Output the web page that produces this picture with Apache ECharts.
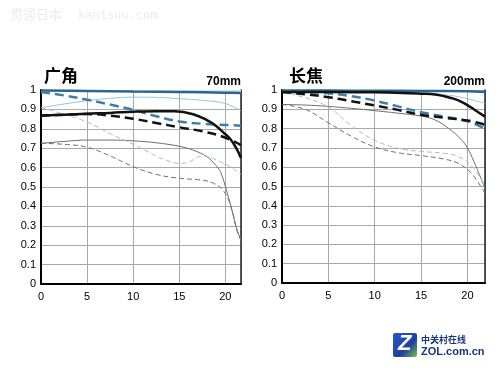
<!DOCTYPE html>
<html><head><meta charset="utf-8">
<script src="https://cdn.jsdelivr.net/npm/echarts@6/dist/echarts.min.js"></script>
<style>html,body{margin:0;padding:0;background:#fff}#c{width:500px;height:375px}</style>
</head><body><div id="c"></div>
<script>
// ---- tick labels ----
const xTicks = [0, 5, 10, 15, 20];
const yTicks = [0, 0.1, 0.2, 0.3, 0.4, 0.5, 0.6, 0.7, 0.8, 0.9, 1];

// ---- 广角 70mm ----
const wS10f8X = [0, 5, 10, 15, 20, 21.7];
const wS10f8Y = [0.997, 0.995, 0.992, 0.99, 0.986, 0.984];
const wM10f8X = [0, 2.5, 5, 7.5, 10, 12.5, 15, 17.5, 20, 21.7];
const wM10f8Y = [0.99, 0.972, 0.95, 0.925, 0.898, 0.865, 0.838, 0.826, 0.82, 0.816];
const wS10opX = [0, 2.5, 5, 7.5, 10, 12.5, 14.5, 16.5, 18, 19, 19.8, 20.4, 20.9, 21.3, 21.7];
const wS10opY = [0.868, 0.873, 0.878, 0.882, 0.888, 0.891, 0.89, 0.875, 0.845, 0.815, 0.78, 0.755, 0.723, 0.69, 0.65];
const wM10opX = [0, 2.5, 5, 7.5, 10, 12.5, 15, 17.5, 19.8, 21.7];
const wM10opY = [0.868, 0.873, 0.876, 0.868, 0.852, 0.83, 0.808, 0.787, 0.758, 0.716];
const wS30f8X = [0, 2.5, 5, 7.5, 10, 12.5, 15, 17.5, 20, 21.7];
const wS30f8Y = [0.908, 0.928, 0.945, 0.957, 0.963, 0.962, 0.955, 0.947, 0.93, 0.893];
const wM30f8X = [0, 2.5, 5, 7.5, 10, 12.5, 13.5, 15, 16, 17.5, 19, 20.5, 21.7];
const wM30f8Y = [0.91, 0.875, 0.835, 0.775, 0.72, 0.66, 0.64, 0.622, 0.628, 0.66, 0.64, 0.605, 0.565];
const wS30opX = [0, 2.5, 5, 7.5, 10, 12.5, 15, 16.5, 18, 19, 19.5, 20.2, 20.8, 21.2, 21.7];
const wS30opY = [0.725, 0.735, 0.742, 0.742, 0.738, 0.728, 0.71, 0.69, 0.656, 0.61, 0.575, 0.47, 0.365, 0.29, 0.225];
const wM30opX = [0, 2.5, 5, 7.5, 10, 12.5, 15, 17.5, 18.7, 19.8, 20.6, 21.3, 21.7];
const wM30opY = [0.725, 0.72, 0.705, 0.66, 0.605, 0.565, 0.545, 0.535, 0.52, 0.48, 0.4, 0.27, 0.225];

// ---- 长焦 200mm ----
const tS10f8X = [0, 5, 10, 15, 20, 21.9];
const tS10f8Y = [0.998, 0.997, 0.996, 0.995, 0.993, 0.99];
const tS10opX = [0, 5, 10, 13, 15, 16.5, 17.5, 18.5, 19.3, 20, 20.7, 21.9];
const tS10opY = [0.99, 0.99, 0.988, 0.985, 0.981, 0.977, 0.968, 0.955, 0.94, 0.922, 0.9, 0.862];
const tM10f8X = [0, 2.5, 5, 7.5, 10, 12.5, 15, 17.5, 20, 21.9];
const tM10f8Y = [0.995, 0.99, 0.983, 0.968, 0.945, 0.915, 0.885, 0.862, 0.838, 0.8];
const tM10opX = [0, 2.5, 5, 7.5, 10, 12.5, 15, 17.5, 20, 21.9];
const tM10opY = [0.99, 0.978, 0.963, 0.942, 0.92, 0.897, 0.872, 0.856, 0.842, 0.82];
const tS30f8X = [0, 5, 10, 15, 18, 20, 21.9];
const tS30f8Y = [0.995, 0.992, 0.987, 0.981, 0.973, 0.955, 0.93];
const tM30f8X = [0, 2.5, 5, 7.5, 10, 12.5, 15, 17.5, 19, 20.4, 21.9];
const tM30f8Y = [0.99, 0.96, 0.912, 0.815, 0.74, 0.698, 0.682, 0.672, 0.655, 0.61, 0.505];
const tS30opX = [0, 2.5, 5, 7.5, 10, 12.5, 15, 16.5, 18, 19.3, 20, 20.7, 21.9];
const tS30opY = [0.925, 0.922, 0.915, 0.905, 0.893, 0.88, 0.865, 0.845, 0.8, 0.745, 0.7, 0.63, 0.49];
const tM30opX = [0, 2.5, 5, 7.5, 10, 12.5, 15, 17.5, 19, 20.4, 21.9];
const tM30opY = [0.925, 0.9, 0.83, 0.76, 0.705, 0.675, 0.66, 0.642, 0.62, 0.57, 0.465];

const zip = (xs, ys) => xs.map((x, i) => [x, ys[i]]);
const FONT = '"Liberation Sans", Arial, sans-serif';

function mk(gi, xs, ys, color, width, dash, z, extra) {
  return Object.assign({
    type: 'line', xAxisIndex: gi, yAxisIndex: gi * 2, data: zip(xs, ys),
    smooth: 0.4, symbol: 'none', z: z, silent: true,
    lineStyle: { color: color, width: width, type: dash ? dash : 'solid' }
  }, extra || {});
}
const BLACK = '#111', BLUE = '#3d7fa8', DBLUE = '#2a6690', LBLUE = '#96c6d8', GRAY = '#6f6f6f';
const band = { areaStyle: { origin: 'end', color: '#cfe7f2', opacity: 1 } };

function xAx(gi, max) {
  return {
    type: 'value', gridIndex: gi, min: 0, max: max, interval: 5,
    axisLine: { show: true, onZero: false, lineStyle: { color: '#000', width: 2 } },
    axisTick: { show: false },
    axisLabel: { color: '#000', fontSize: 11, fontFamily: FONT, margin: 7, showMaxLabel: false,
      formatter: v => xTicks.indexOf(v) >= 0 ? String(v) : '' },
    splitLine: { show: true, lineStyle: { color: '#a8a8a8', width: 1 } }
  };
}
function yAx(gi) {
  return [{
    type: 'value', gridIndex: gi, min: 0, max: 1, interval: 0.1,
    axisLine: { show: true, lineStyle: { color: '#000', width: 2 } },
    axisTick: { show: false },
    axisLabel: { color: '#000', fontSize: 11, fontFamily: FONT, margin: 5,
      formatter: v => { const r = +v.toFixed(1); return yTicks.indexOf(r) >= 0 ? String(r) : ''; } },
    splitLine: { show: true, lineStyle: { color: '#a8a8a8', width: 1 } }
  }, {
    type: 'value', gridIndex: gi, min: 0, max: 1, position: 'right',
    axisLine: { show: true, lineStyle: { color: '#222', width: 1.5 } },
    axisTick: { show: false }, axisLabel: { show: false }, splitLine: { show: false }
  }];
}

const option = {
  animation: false,
  backgroundColor: '#fff',
  grid: [
    { left: 41, top: 90, width: 200, height: 194 },
    { left: 282, top: 90, width: 203, height: 193 }
  ],
  xAxis: [xAx(0, 21.7), xAx(1, 21.9)],
  yAxis: yAx(0).concat(yAx(1)),
  series: [
    mk(0, wS30opX, wS30opY, GRAY, 1, null, 3),
    mk(0, wM30opX, wM30opY, GRAY, 1, [5, 3], 3),
    mk(0, wS30f8X, wS30f8Y, LBLUE, 1, null, 4),
    mk(0, wM30f8X, wM30f8Y, LBLUE, 1, [5, 3], 4),
    mk(0, wS10f8X, wS10f8Y, DBLUE, 2.5, null, 5, band),
    mk(0, wM10f8X, wM10f8Y, BLUE, 2.5, [9, 5], 6),
    mk(0, wM10opX, wM10opY, BLACK, 2.5, [9, 5], 6),
    mk(0, wS10opX, wS10opY, BLACK, 2.5, null, 7),
    mk(1, tS30opX, tS30opY, GRAY, 1, null, 3),
    mk(1, tM30opX, tM30opY, GRAY, 1, [5, 3], 3),
    mk(1, tS30f8X, tS30f8Y, LBLUE, 1, null, 4),
    mk(1, tM30f8X, tM30f8Y, LBLUE, 1, [5, 3], 4),
    mk(1, tS10f8X, tS10f8Y, DBLUE, 2.5, null, 5, band),
    mk(1, tM10f8X, tM10f8Y, BLUE, 2.5, [9, 5], 6),
    mk(1, tM10opX, tM10opY, BLACK, 2.5, [9, 5], 6),
    mk(1, tS10opX, tS10opY, BLACK, 2.5, null, 7)
  ],
  graphic: [
    { type: 'text', left: 10, top: 8, style: { text: '贯通日本', fill: '#ececec', font: '13px "Noto Sans CJK SC"' } },
    { type: 'text', left: 78, top: 10, style: { text: 'kantsuu.com', fill: '#ececec', font: '12px "DejaVu Sans Mono", monospace' } },
    { type: 'text', left: 44, top: 67, style: { text: '广角', fill: '#000', font: 'bold 17px "Noto Sans CJK SC"' } },
    { type: 'text', left: 289, top: 67, style: { text: '长焦', fill: '#000', font: 'bold 17px "Noto Sans CJK SC"' } },
    { type: 'text', right: 259, top: 76, style: { text: '70mm', fill: '#000', font: 'bold 12px "Liberation Sans", Arial' } },
    { type: 'text', right: 15, top: 76, style: { text: '200mm', fill: '#000', font: 'bold 12px "Liberation Sans", Arial' } },
    { type: 'rect', shape: { x: 393, y: 333, width: 24, height: 24, r: 2 },
      style: { fill: { type: 'linear', x: 0, y: 0, x2: 1, y2: 1,
        colorStops: [{ offset: 0, color: '#2b56c4' }, { offset: 0.6, color: '#1f3fa0' }, { offset: 1, color: '#7cc242' }] } } },
    { type: 'text', left: 398, top: 333, style: { text: 'Z', fill: '#ffffff', font: 'bold italic 22px "Liberation Sans", Arial' } },
    { type: 'text', left: 421, top: 335, style: { text: '中关村在线', fill: '#17357a', font: 'bold 9px "Noto Sans CJK SC"' } },
    { type: 'text', left: 421, top: 346, style: { text: 'ZOL.com.cn', fill: '#17357a', font: 'bold 11px "Liberation Sans", Arial' } }
  ]
};
const chart = echarts.init(document.getElementById('c'), null, { renderer: 'canvas' });
chart.setOption(option);
</script></body></html>
